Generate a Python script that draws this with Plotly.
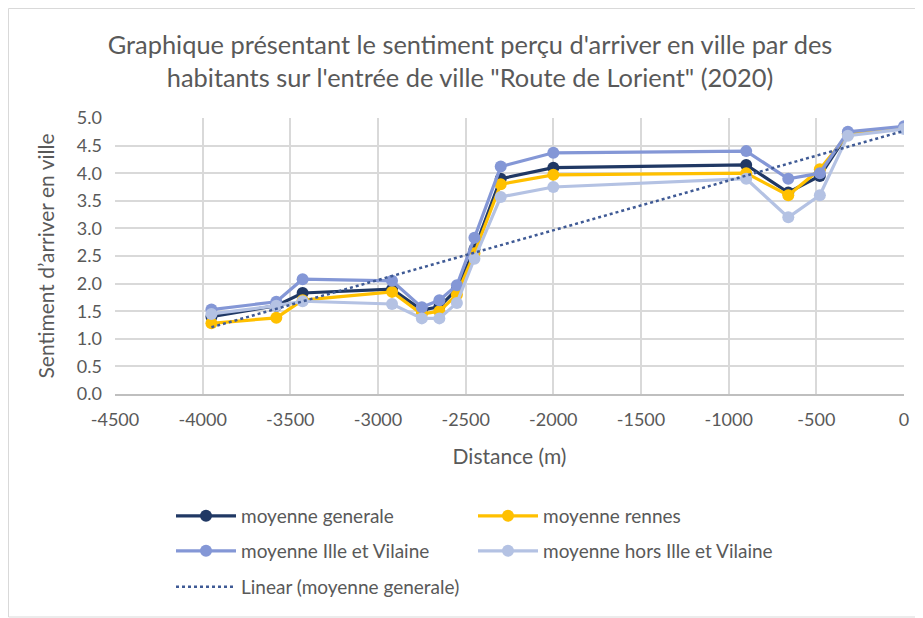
import numpy as np
import plotly.graph_objects as go

distance = [-3950, -3580, -3430, -2920, -2750, -2650, -2550, -2450, -2300, -2000, -900, -660, -480, -320, 0]
moy_generale = [1.40, 1.60, 1.83, 1.90, 1.52, 1.58, 1.90, 2.62, 3.90, 4.10, 4.15, 3.65, 3.95, 4.72, 4.82]
moy_rennes = [1.28, 1.38, 1.70, 1.85, 1.45, 1.50, 1.80, 2.55, 3.80, 3.97, 4.00, 3.60, 4.07, 4.70, 4.82]
moy_ille = [1.53, 1.67, 2.08, 2.05, 1.57, 1.70, 1.97, 2.83, 4.12, 4.37, 4.40, 3.90, 4.00, 4.75, 4.85]
moy_hors = [1.45, 1.60, 1.68, 1.63, 1.37, 1.37, 1.65, 2.45, 3.57, 3.75, 3.90, 3.20, 3.60, 4.68, 4.80]

x_tickvals = [-4500, -4000, -3500, -3000, -2500, -2000, -1500, -1000, -500, 0]
x_ticktext = ["-4500", "-4000", "-3500", "-3000", "-2500", "-2000", "-1500", "-1000", "-500", "0"]

title_text = "Graphique présentant le sentiment perçu d'arriver en ville par des<br>habitants sur l'entrée de ville \"Route de Lorient\" (2020)"

FONT = "Lato"
GREY = "#595959"

W, H = 915, 610
L, R, T, B = 107, 19, 110, 224
PW = W - L - R
PH = H - T - B

series = [
    ("moyenne generale", moy_generale, "#203864", "legend"),
    ("moyenne rennes", moy_rennes, "#FFC000", "legend"),
    ("moyenne Ille et Vilaine", moy_ille, "#8497D6", "legend2"),
    ("moyenne hors Ille et Vilaine", moy_hors, "#B4C2E3", "legend2"),
]

fig = go.Figure()
for name, vals, col, lg in series:
    fig.add_trace(go.Scatter(
        x=distance, y=vals, name=name, mode="lines+markers",
        line=dict(color=col, width=3.2),
        marker=dict(color=col, size=12),
        legend=lg,
    ))

# linear trendline of moyenne generale
a, b = np.polyfit(distance, moy_generale, 1)
tx = [min(distance), max(distance)]
ty = [a * v + b for v in tx]
fig.add_trace(go.Scatter(
    x=tx, y=ty, name="Linear (moyenne generale)", mode="lines",
    line=dict(color="#3F5A95", width=2.5, dash="dot"),
    legend="legend3",
))

legend_common = dict(
    orientation="h", x=(163 - L) / PW, xanchor="left", yanchor="middle",
    font=dict(family=FONT, size=19, color=GREY), entrywidth=227,
    itemwidth=60, bgcolor="rgba(0,0,0,0)",
)

def py(win_y):
    # window pixel y -> paper y
    fy = win_y - 8
    return (H - B - fy) / PH

fig.update_layout(
    width=W, height=H,
    paper_bgcolor="white", plot_bgcolor="white",
    margin=dict(l=L, r=R, t=T, b=B, autoexpand=False),
    title=dict(text=title_text, x=462 / W, xanchor="center", y=1 - 46 / H, yanchor="middle",
               font=dict(family=FONT, size=25.4, color=GREY)),
    font=dict(family=FONT, color=GREY),
    showlegend=True,
    legend=dict(y=py(516), **legend_common),
    legend2=dict(y=py(551), **legend_common),
    legend3=dict(y=py(587), **legend_common),
    xaxis=dict(
        range=[-4500, 0], tickvals=x_tickvals, ticktext=x_ticktext,
        showgrid=True, gridcolor="#D9D9D9", gridwidth=1.5,
        showline=True, linecolor="#BFBFBF", linewidth=1.5, zeroline=False,
        tickfont=dict(family=FONT, size=18, color=GREY), ticks="", ticklabelstandoff=9,
        title=dict(text="Distance (m)", font=dict(family=FONT, size=21, color=GREY), standoff=20),
        automargin=False,
    ),
    yaxis=dict(
        range=[0, 5], dtick=0.5, tickformat=".1f", showgrid=True, gridcolor="#D9D9D9", gridwidth=1.5,
        showline=False, zeroline=False,
        tickfont=dict(family=FONT, size=18, color=GREY), ticks="", ticklabelstandoff=12,
        title=dict(text="Sentiment d’arriver en ville", font=dict(family=FONT, size=21, color=GREY), standoff=16),
        automargin=False,
    ),
    shapes=[dict(type="rect", xref="paper", yref="paper",
                 x0=(0.5 - L) / PW, x1=(W - 1 - L) / PW,
                 y0=(PH + T - (H - 1)) / PH, y1=(PH + T - 0.5) / PH,
                 line=dict(color="#D9D9D9", width=1), layer="below")],
)

fig.write_html("out.html")
